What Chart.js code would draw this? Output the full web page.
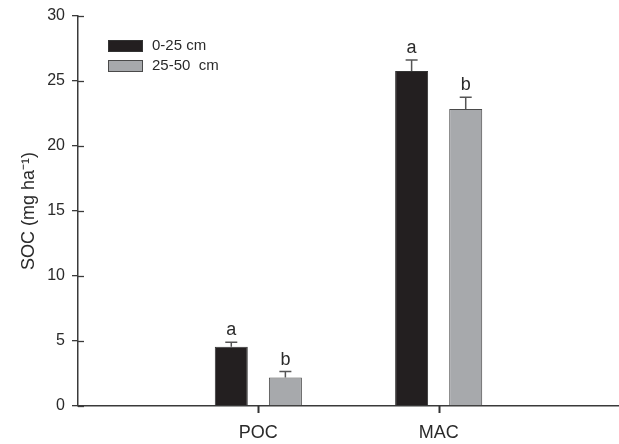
<!DOCTYPE html>
<html>
<head>
<meta charset="utf-8">
<script src="https://cdn.jsdelivr.net/npm/chart.js@4"></script>
<style>
  html, body { margin: 0; padding: 0; background: #fff; }
  #wrap { width: 619px; height: 444px; }
</style>
</head>
<body>
<div id="wrap"><canvas id="socChart"></canvas></div>
<script>
// Data
const categories = ['POC', 'MAC'];
const seriesNames = ['0-25 cm', '25-50  cm'];
const topValues = [4.56, 25.77];     // 0-25 cm
const topErrors = [0.35, 0.85];
const topLetters = ['a', 'a'];
const subValues = [2.2, 22.85];      // 25-50 cm
const subErrors = [0.45, 0.9];
const subLetters = ['b', 'b'];
const yTicks = [0, 5, 10, 15, 20, 25, 30];

// pad the category axis with empty slots on both sides
const axisLabels = ['', ...categories, ''];
const pad = arr => [null, ...arr, null];

const FONT = 'Liberation Sans, Arial, sans-serif';
const INK = '#2a2a2a';
const AXIS = '#3a3a3a';

// Error bars, significance letters, tick marks and legend
const extras = {
    id: 'extras',
    afterDraw(chart) {
        const ctx = chart.ctx;
        const x = chart.scales.x;
        const y = chart.scales.y;
        const area = chart.chartArea;
        ctx.save();

        // inward half of the y tick marks
        ctx.strokeStyle = AXIS;
        ctx.lineWidth = 1.3;
        yTicks.forEach(v => {
            const py = Math.round(y.getPixelForValue(v)) + 0.5;
            ctx.beginPath();
            ctx.moveTo(area.left, py);
            ctx.lineTo(area.left + 6, py);
            ctx.stroke();
        });

        // category tick marks below the x axis
        ctx.strokeStyle = '#333';
        ctx.lineWidth = 2;
        categories.forEach((c, i) => {
            const px = Math.round(x.getPixelForValue(i + 1)) + 0.5;
            ctx.beginPath();
            ctx.moveTo(px, area.bottom);
            ctx.lineTo(px, area.bottom + 7);
            ctx.stroke();
        });

        chart.data.datasets.forEach((ds, di) => {
            const meta = chart.getDatasetMeta(di);
            meta.data.forEach((bar, i) => {
                const v = ds.data[i];
                if (v === null || v === undefined) return;
                const err = ds.errors[i];
                const yTop = y.getPixelForValue(v);
                const yErr = y.getPixelForValue(v + err);
                ctx.strokeStyle = '#555';
                ctx.lineWidth = 1.5;
                ctx.beginPath();
                ctx.moveTo(bar.x, yTop);
                ctx.lineTo(bar.x, yErr);
                ctx.moveTo(bar.x - 6, yErr);
                ctx.lineTo(bar.x + 6, yErr);
                ctx.stroke();

                ctx.fillStyle = INK;
                ctx.font = '18px ' + FONT;
                ctx.textAlign = 'center';
                ctx.textBaseline = 'alphabetic';
                ctx.fillText(ds.letters[i], bar.x, yErr - 7);
            });
        });

        // legend
        const lx = area.left + 30, ly = area.top + 24;
        chart.data.datasets.forEach((ds, di) => {
            const by = ly + di * 20;
            ctx.fillStyle = ds.backgroundColor;
            ctx.strokeStyle = ds.borderColor;
            ctx.lineWidth = 1;
            ctx.fillRect(lx, by, 35, 12);
            ctx.strokeRect(lx + 0.5, by + 0.5, 34, 11);
            ctx.fillStyle = INK;
            ctx.font = '15px ' + FONT;
            ctx.textAlign = 'left';
            ctx.textBaseline = 'middle';
            ctx.fillText(ds.label, lx + 44, by + 6);
        });
        ctx.restore();
    }
};

new Chart(document.getElementById('socChart'), {
    type: 'bar',
    data: {
        labels: axisLabels,
        datasets: [
            { label: seriesNames[0], data: pad(topValues), errors: pad(topErrors), letters: pad(topLetters),
              backgroundColor: '#231f20', borderColor: '#333', borderWidth: 1 },
            { label: seriesNames[1], data: pad(subValues), errors: pad(subErrors), letters: pad(subLetters),
              backgroundColor: '#a7a9ac', borderColor: '#4a4a4a', borderWidth: 1 }
        ]
    },
    options: {
        responsive: true,
        maintainAspectRatio: false,
        animation: false,
        categoryPercentage: 0.6,
        barPercentage: 0.61,
        layout: { padding: { top: 16, left: 0, right: 0, bottom: 0 } },
        plugins: { legend: { display: false }, tooltip: { enabled: false } },
        scales: {
            x: {
                offset: false,
                afterFit: s => { s.height = 38; s.paddingLeft = 0; s.paddingRight = 0; },
                border: { color: AXIS, width: 1.5 },
                grid: { offset: false, display: false, drawOnChartArea: false, tickLength: 6 },
                ticks: { color: INK, padding: 10, font: { family: FONT, size: 18 } }
            },
            y: {
                min: 0,
                max: 30,
                afterFit: s => { s.width = 78; s.paddingTop = 0; s.paddingBottom = 0; },
                afterBuildTicks: s => { s.ticks = yTicks.map(v => ({ value: v })); },
                border: { color: AXIS, width: 1.5 },
                grid: { drawOnChartArea: false, tickLength: 6, color: AXIS, lineWidth: 1.3 },
                ticks: { color: INK, padding: 7, font: { family: FONT, size: 16 } },
                title: {
                    display: true,
                    text: 'SOC (mg ha⁻¹)',
                    color: INK,
                    padding: { top: 18, bottom: 0 },
                    font: { family: FONT, size: 18 }
                }
            }
        }
    },
    plugins: [extras]
});
</script>
</body>
</html>
